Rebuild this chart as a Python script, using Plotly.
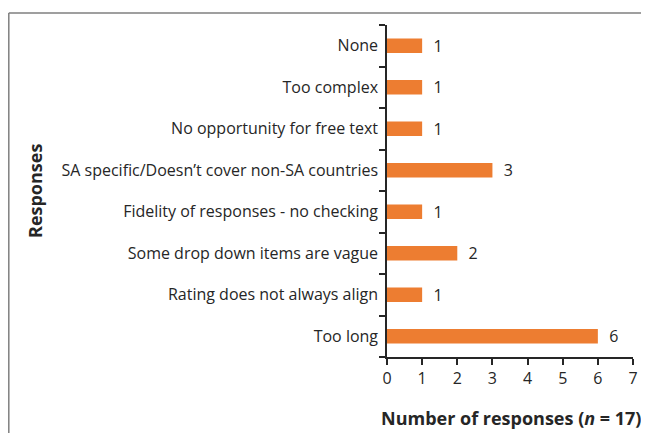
import plotly.graph_objects as go

categories = [
    "Too long",
    "Rating does not always align",
    "Some drop down items are vague",
    "Fidelity of responses - no checking",
    "SA specific/Doesn\u2019t cover non-SA countries",
    "No opportunity for free text",
    "Too complex",
    "None",
]
values = [6, 1, 2, 1, 3, 1, 1, 1]
x_ticks = [0, 1, 2, 3, 4, 5, 6, 7]

FONT = "Open Sans"
AX = "#262626"

# the page puts the figure 8px in from the window's top-left corner
W, H = 641, 425
L, T = 379, 17
PLOT_R, PLOT_B = 625, 349
R, B = W - PLOT_R, H - PLOT_B
PW = PLOT_R - L
PH = PLOT_B - T


def px(x):
    return (x - L) / PW


def py(y):
    return (PLOT_B - y) / PH


fig = go.Figure(
    go.Bar(
        y=categories,
        x=values,
        orientation="h",
        marker=dict(color="#ED7D31", line=dict(width=0)),
        width=0.35,
        text=[f"  {v}" for v in values],
        textposition="outside",
        constraintext="none",
        textfont=dict(family=FONT, size=16, color="#262626"),
        cliponaxis=False,
    )
)

frame = dict(color="#7f7f7f", width=1.5)

fig.update_layout(
    width=W,
    height=H,
    margin=dict(l=L, r=R, t=T, b=B, autoexpand=False),
    paper_bgcolor="white",
    plot_bgcolor="white",
    showlegend=False,
    font=dict(family=FONT, size=16, color="#262626"),
    xaxis=dict(
        range=[0, 7],
        tickvals=x_ticks,
        ticks="outside",
        ticklen=6,
        tickwidth=1.5,
        tickcolor=AX,
        showline=True,
        linecolor=AX,
        linewidth=1.5,
        showgrid=False,
        zeroline=False,
        automargin=False,
        tickfont=dict(family=FONT, size=16),
    ),
    yaxis=dict(
        categoryorder="array",
        categoryarray=categories,
        ticks="outside",
        tickson="boundaries",
        ticklen=6,
        tickwidth=1.5,
        tickcolor=AX,
        showline=True,
        linecolor=AX,
        linewidth=1.5,
        showgrid=False,
        zeroline=False,
        automargin=False,
        ticklabelstandoff=4,
        tickfont=dict(family=FONT, size=16),
    ),
    shapes=[
        dict(type="line", xref="paper", yref="paper",
             x0=px(0.8), x1=px(W + 40), y0=py(5), y1=py(5), line=frame),
        dict(type="line", xref="paper", yref="paper",
             x0=px(0.8), x1=px(0.8), y0=py(5), y1=py(H + 40), line=frame),
    ],
    annotations=[
        dict(
            text="<b>Responses</b>",
            xref="paper",
            yref="paper",
            x=px(27),
            y=py(183),
            textangle=-90,
            showarrow=False,
            font=dict(family=FONT, size=18, color="#262626"),
            xanchor="center",
            yanchor="middle",
        ),
        dict(
            text="<b>Number of responses (<i>n</i> = 17)</b>",
            xref="paper",
            yref="paper",
            x=px(503),
            y=py(410),
            showarrow=False,
            font=dict(family=FONT, size=18, color="#262626"),
            xanchor="center",
            yanchor="middle",
        ),
    ],
)

fig.write_html("out.html")
